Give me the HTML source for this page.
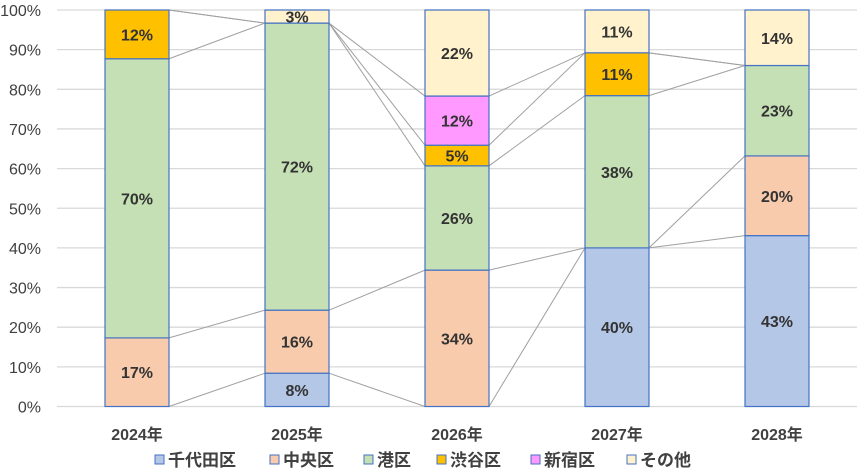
<!DOCTYPE html>
<html><head><meta charset="utf-8">
<style>
html,body{margin:0;padding:0;background:#fff;}
svg{display:block;font-family:"Liberation Sans","Noto Sans CJK JP",sans-serif;}
</style></head>
<body>
<svg id="chart" width="858" height="471" viewBox="0 0 858 471" xmlns="http://www.w3.org/2000/svg">
<g id="grid"></g>
<g id="yaxis"></g>
<g id="lines"></g>
<g id="bars"></g>
<g id="xaxis"></g>
<g id="legend"></g>
</svg>
<script>
const categories = ["2024年","2025年","2026年","2027年","2028年"];
const seriesNames = ["千代田区","中央区","港区","渋谷区","新宿区","その他"];
const chiyoda = [0, 8.4, 0, 40.0, 43.1];
const chuo = [17.3, 15.9, 34.4, 0, 20.1];
const minato = [70.4, 72.4, 26.3, 38.4, 22.8];
const shibuya = [12.3, 0, 5.2, 10.8, 0];
const shinjuku = [0, 0, 12.4, 0, 0];
const others = [0, 3.3, 21.7, 10.8, 14.0];
const yTicks = [0,10,20,30,40,50,60,70,80,90,100];
const seriesValues = [chiyoda, chuo, minato, shibuya, shinjuku, others];
const colors = ["#b4c7e7","#f8cbad","#c5e0b4","#ffc000","#ff99ff","#fff2cc"];

const NS = "http://www.w3.org/2000/svg";
const plotL = 57, plotR = 857, y0 = 406.5, y100 = 10;
const bandW = (plotR - plotL) / categories.length, barW = 64;
function yScale(v){ return y0 - (y0 - y100) * v / 100; }
function xCenter(i){ return plotL + bandW * (i + 0.5); }
function mk(tag, attrs, parent){ const e = document.createElementNS(NS, tag); for (const k in attrs) e.setAttribute(k, attrs[k]); parent.appendChild(e); return e; }

const grid = document.getElementById('grid'), yaxis = document.getElementById('yaxis');
yTicks.forEach(t => {
  const l = mk('line', {x1: plotL, x2: plotR, y1: yScale(t), y2: yScale(t), stroke: '#d9d9d9', 'stroke-width': 1.3}, grid);
  
  
  const tx = mk('text', {x: 41, y: yScale(t) + 6, 'text-anchor': 'end', 'font-size': 16, fill: '#404040'}, yaxis);
  tx.textContent = t + '%';
  
  
});

const cum = categories.map((c, i) => { let s = 0; return seriesValues.map(sv => { s += sv[i]; return s; }); });

const lines = document.getElementById('lines');
for (let i = 0; i < categories.length - 1; i++) {
  for (let s = 0; s < seriesValues.length - 1; s++) {
    const l = mk('line', {x1: xCenter(i) + barW/2, y1: yScale(cum[i][s]), x2: xCenter(i+1) - barW/2, y2: yScale(cum[i+1][s]), stroke: '#a0a0a0', 'stroke-width': 1}, lines);
    
    
  }
}

const bars = document.getElementById('bars');
categories.forEach((c, i) => {
  let base = 0;
  seriesValues.forEach((sv, s) => {
    const v = sv[i];
    if (v > 0) {
      const yt = yScale(base + v), yb = yScale(base);
      const r = mk('rect', {x: xCenter(i) - barW/2, y: yt, width: barW, height: yb - yt, fill: colors[s], stroke: '#4472c4', 'stroke-width': 1.2}, bars);
      
      
      const t = mk('text', {x: xCenter(i), y: (yt + yb)/2 + 6, 'text-anchor': 'middle', 'font-size': 16, 'font-weight': 'bold', fill: '#333'}, bars);
      t.textContent = Math.round(v) + '%';
      
      
    }
    base += v;
  });
});

const xaxis = document.getElementById('xaxis');
categories.forEach((c, i) => {
  const t = mk('text', {x: xCenter(i), y: 440, 'text-anchor': 'middle', 'font-size': 16, 'font-weight': 'bold', fill: '#404040'}, xaxis);
  t.textContent = c;
  
  
});

const legend = document.getElementById('legend');
const legX = [155, 270, 364, 437, 531, 627];
seriesNames.forEach((n, s) => {
  const g = mk('g', {}, legend);
  
  
  mk('rect', {x: legX[s], y: 455, width: 9, height: 9, fill: colors[s], stroke: '#4472c4', 'stroke-width': 1}, g);
  const t = mk('text', {x: legX[s] + 13, y: 466, 'font-size': 17, 'font-weight': 'bold', fill: '#404040'}, g);
  t.textContent = n;
});
</script>
</body></html>
